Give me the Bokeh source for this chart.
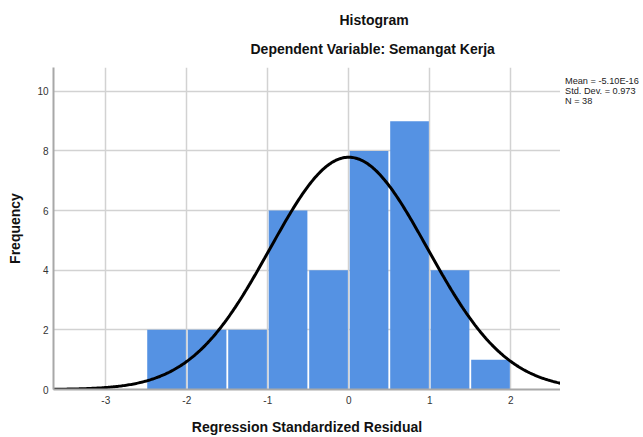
import numpy as np
from bokeh.plotting import figure
from bokeh.models import Range1d, FixedTicker, Title, Div
from bokeh.layouts import row
from bokeh.embed import file_html
from bokeh.resources import INLINE

# ---- data ----
bin_left = [-2.5, -2.0, -1.5, -1.0, -0.5, 0.0, 0.5, 1.0, 1.5]
bin_right = [-2.0, -1.5, -1.0, -0.5, 0.0, 0.5, 1.0, 1.5, 2.0]
frequency = [2, 2, 2, 6, 4, 8, 9, 4, 1]
mean_value = -5.10e-16
std_dev = 0.973
n_obs = 38
x_ticks = [-3, -2, -1, 0, 1, 2]
y_ticks = [0, 2, 4, 6, 8, 10]

title_text = "Histogram"
subtitle_text = "Dependent Variable: Semangat Kerja"
x_label = "Regression Standardized Residual"
y_label = "Frequency"
stats_lines = ["Mean = -5.10E-16", "Std. Dev. = 0.973", "N = 38"]

FONT = "Liberation Sans"

p = figure(width=560, height=437, output_backend="svg", toolbar_location=None,
           x_range=Range1d(-3.646, 2.614), y_range=Range1d(0, 10.8),
           min_border_left=53, min_border_right=0, min_border_top=67,
           min_border_bottom=46)
p.outline_line_color = None
p.background_fill_color = "white"
p.border_fill_color = "white"

# grid
for g in (p.xgrid, p.ygrid):
    g.grid_line_color = "#d2d2d2"
    g.grid_line_width = 1.5
p.xaxis.ticker = FixedTicker(ticks=x_ticks)
p.yaxis.ticker = FixedTicker(ticks=y_ticks)
p.xaxis.major_label_overrides = {t: str(t) for t in x_ticks}

# axes
for ax in (p.xaxis, p.yaxis):
    ax.axis_line_color = "#a8a8a8"
    ax.axis_line_width = 2
    ax.major_tick_out = 0
    ax.major_tick_in = 0
    ax.minor_tick_out = 0
    ax.minor_tick_in = 0
    ax.major_label_text_font = FONT
    ax.major_label_text_font_size = "10px"
    ax.major_label_text_color = "#333333"
    ax.axis_label_text_font = FONT
    ax.axis_label_text_font_size = "14px"
    ax.axis_label_text_font_style = "bold"
    ax.axis_label_text_color = "#111111"
p.xaxis.axis_label = x_label
p.yaxis.axis_label = y_label
p.xaxis.major_label_standoff = 6
p.xaxis.axis_label_standoff = 12
p.yaxis.major_label_standoff = 5
p.yaxis.axis_label_standoff = 11

# bars (small gap between bars, as in the reference)
centers = [(a + b) / 2 for a, b in zip(bin_left, bin_right)]
widths = [(b - a) * 0.955 for a, b in zip(bin_left, bin_right)]
p.vbar(x=centers, width=widths, top=frequency, bottom=0,
       fill_color="#5592e3", line_color=None)

# fitted normal curve from the displayed statistics
bw = bin_right[0] - bin_left[0]
xs = np.linspace(p.x_range.start, p.x_range.end, 400)
ys = n_obs * bw * np.exp(-0.5 * ((xs - mean_value) / std_dev) ** 2) / (std_dev * np.sqrt(2 * np.pi))
p.line(xs, ys, line_color="black", line_width=3)

# titles
p.add_layout(Title(text=subtitle_text, align="left", offset=197, vertical_align="middle",
                   standoff=20, text_font=FONT, text_font_size="14px",
                   text_font_style="bold", text_color="#111111"), "above")
p.add_layout(Title(text=title_text, align="left", offset=286, vertical_align="middle",
                   standoff=2, text_font=FONT, text_font_size="14px",
                   text_font_style="bold", text_color="#111111"), "above")

# statistics block at the right
stats_html = ("<div style=\"margin:0; padding:76px 0 0 0; font-family:'Liberation Sans'; "
              "font-size:9.2px; line-height:10px; color:#222222; white-space:nowrap;\">"
              + "<br>".join(stats_lines) + "</div>")
stats = Div(text=stats_html, width=78, height=437, margin=(0, 0, 0, 5))

layout = row(p, stats)
open("out.html", "w").write(file_html(layout, INLINE))
